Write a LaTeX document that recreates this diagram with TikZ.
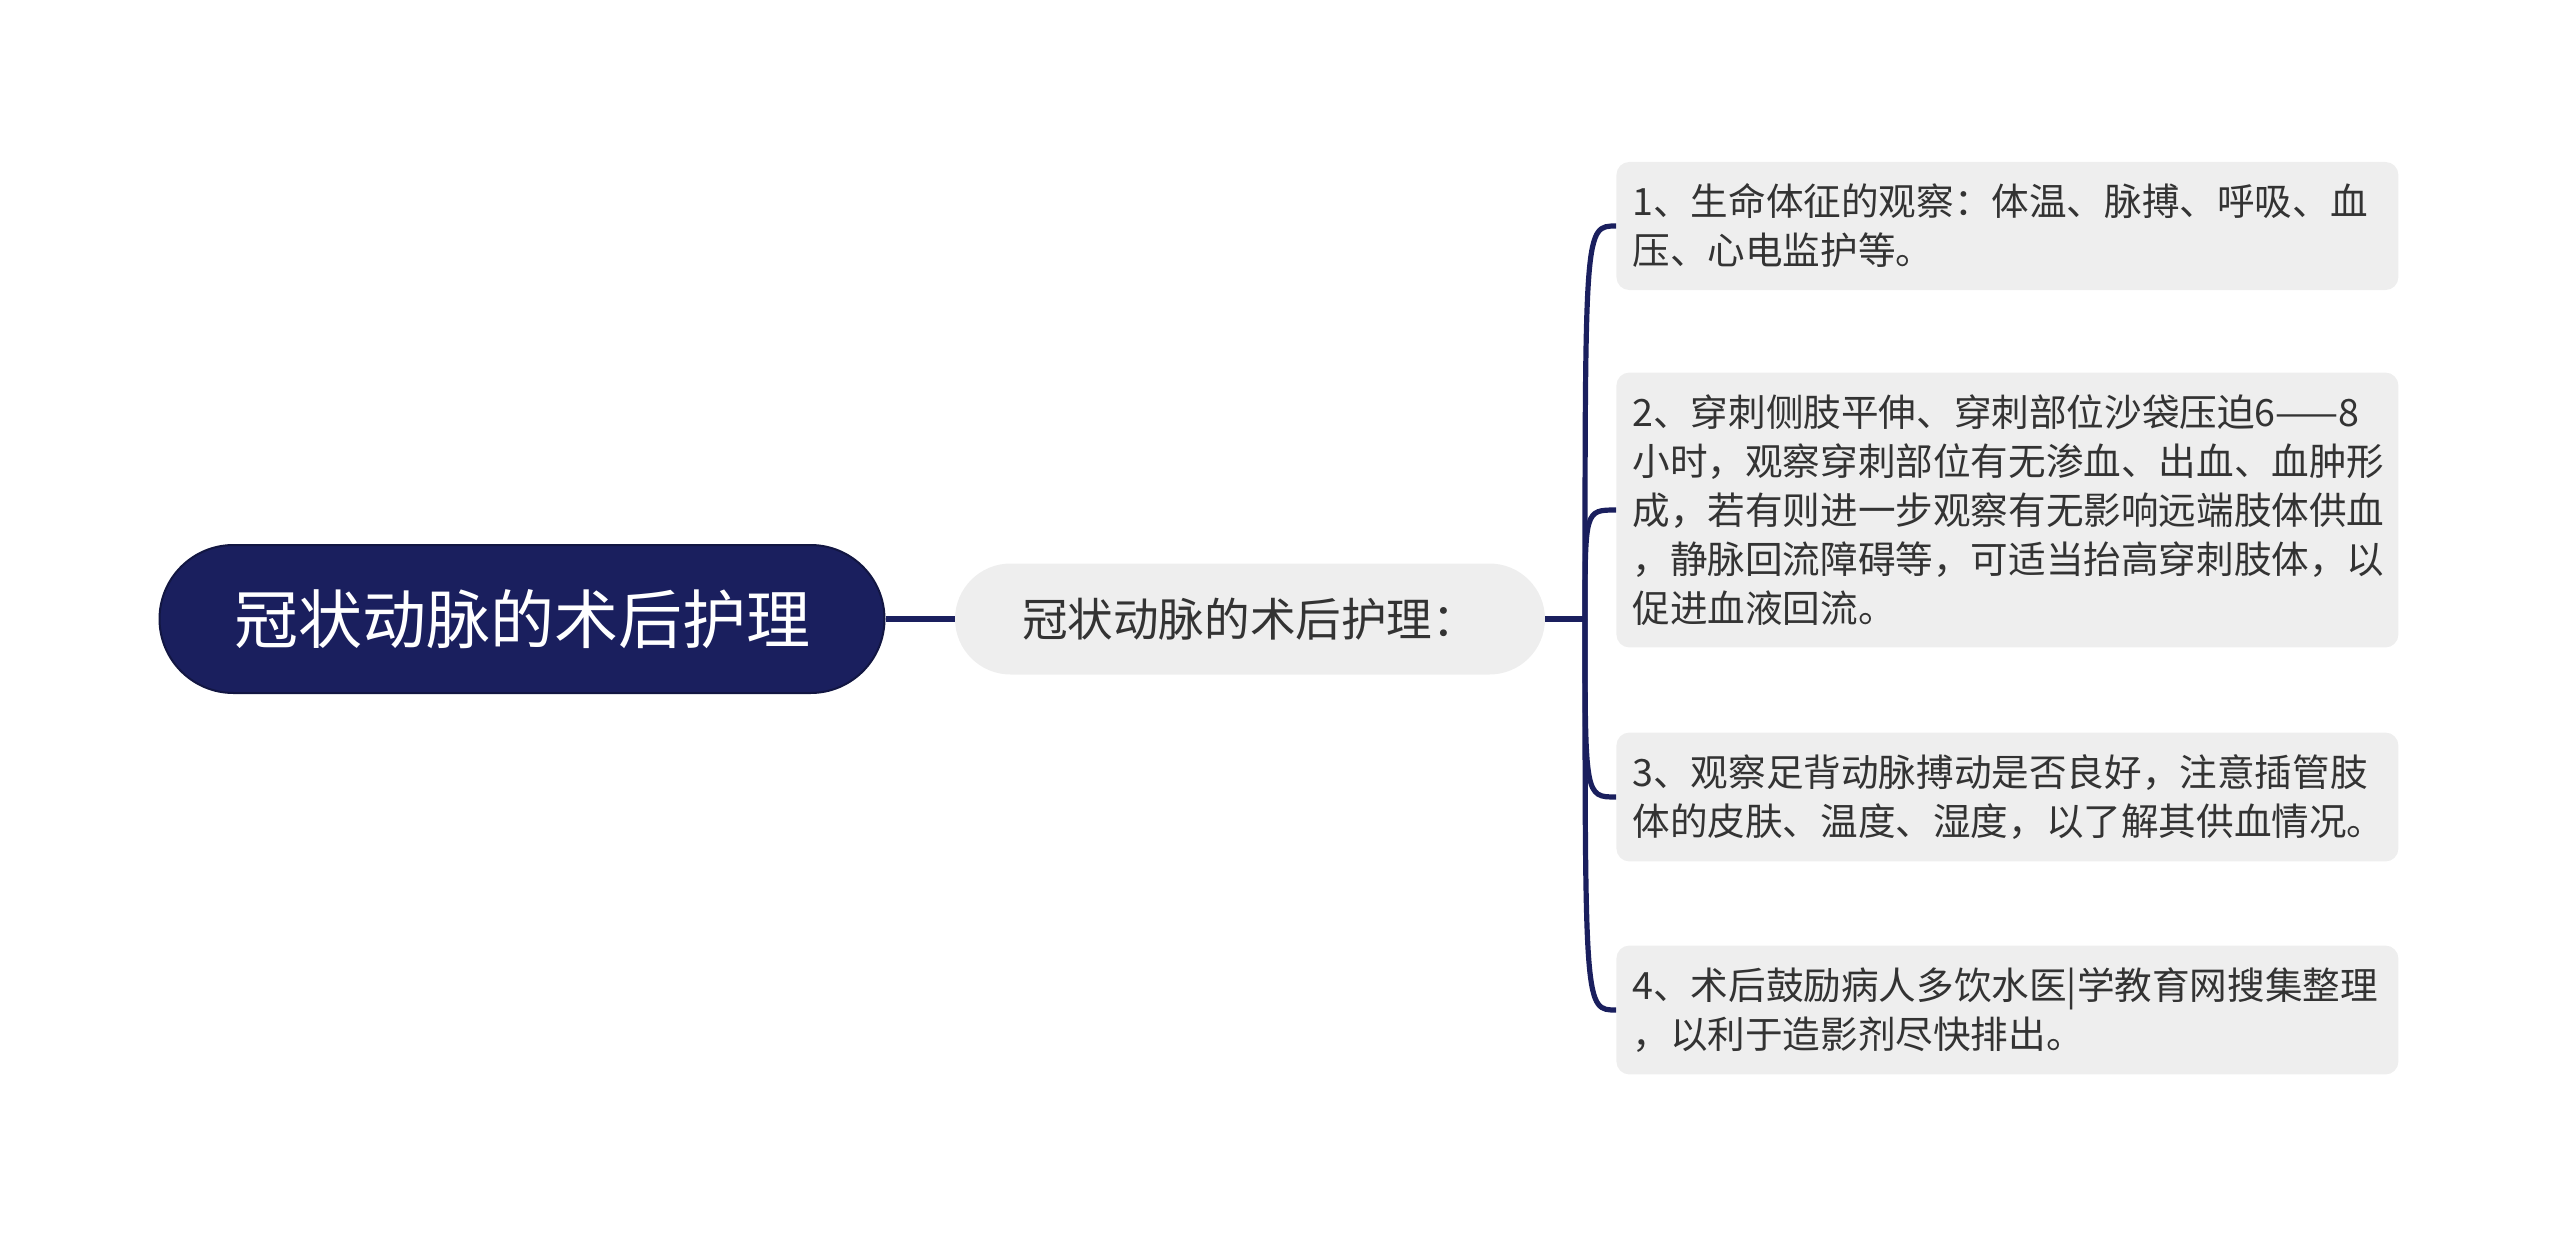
\documentclass[tikz,border=0pt]{standalone}
\usepackage{fontspec}
\newfontfamily\cjk{Noto Sans CJK SC}
\definecolor{navy}{HTML}{1A1F5E}
\definecolor{leafgray}{HTML}{EEEEEE}
\definecolor{txtgray}{HTML}{333333}
\tikzset{
  rootbox/.style={fill=navy, draw=navy!70!black, line width=1pt, rounded corners=37pt,
    minimum width=362.5pt, minimum height=74pt, text=white,
    font=\cjk\fontsize{32}{38}\selectfont},
  subbox/.style={fill=leafgray, rounded corners=27.75pt, minimum width=295pt,
    minimum height=55.5pt, text=txtgray, font=\cjk\fontsize{22.8}{27}\selectfont},
  leafbox/.style={fill=leafgray, rounded corners=6.5pt, text width=375pt, inner xsep=8pt,
    inner ysep=11pt, align=left, anchor=west, text=txtgray,
    font=\cjk\fontsize{18.8}{24.5}\selectfont},
  link/.style={draw=navy, line width=2.6pt},
}
\begin{document}
\begin{tikzpicture}[x=0.5pt, y=-0.5pt]
  \def\Xl{1616};  % leaves, left edge
  \def\Yc{619};   % centre line
  \useasboundingbox (0,0) rectangle (2560,1237);

  % root and topic
  \node[rootbox] (root) at (522, \Yc) {冠状动脉的术后护理};
  \node[subbox] (sub) at (1250, \Yc) {冠状动脉的术后护理：};
  \draw[link] (root.east) -- (sub.west);

  % leaves
  \node[leafbox] (l1) at (\Xl, 226) {1、生命体征的观察：体温、脉搏、呼吸、血\\压、心电监护等。};
  \node[leafbox] (l2) at (\Xl, 510) {\mbox{2、穿刺侧肢平伸、穿刺部位沙袋压迫6——8}\\小时，观察穿刺部位有无渗血、出血、血肿形\\成，若有则进一步观察有无影响远端肢体供血\\，静脉回流障碍等，可适当抬高穿刺肢体，以\\促进血液回流。};
  \node[leafbox] (l3) at (\Xl, 797) {3、观察足背动脉搏动是否良好，注意插管肢\\体的皮肤、温度、湿度，以了解其供血情况。};
  \node[leafbox] (l4) at (\Xl, 1010) {4、术后鼓励病人多饮水医|学教育网搜集整理\\，以利于造影剂尽快排出。};

  % fork
  \coordinate (fork) at (1585, \Yc);
  \draw[link] (sub.east) -- (fork);
  \foreach \n in {1,...,4}
    \draw[link] (fork) .. controls (fork |- l\n.west) .. (l\n.west);
\end{tikzpicture}
\end{document}
